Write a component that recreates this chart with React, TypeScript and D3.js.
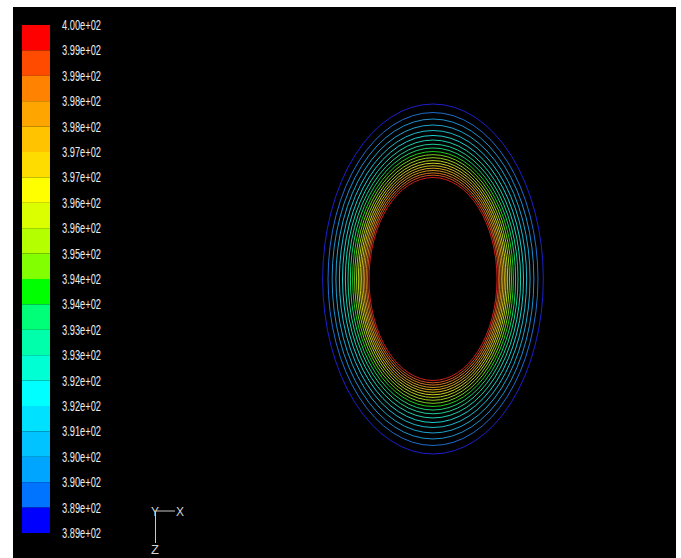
import * as d3 from "d3";

// Colour legend labels, top to bottom (temperature, K)
const legendLabels = [
  "4.00e+02", "3.99e+02", "3.99e+02", "3.98e+02", "3.98e+02", "3.97e+02", "3.97e+02",
  "3.96e+02", "3.96e+02", "3.95e+02", "3.94e+02", "3.94e+02", "3.93e+02", "3.93e+02",
  "3.92e+02", "3.92e+02", "3.91e+02", "3.90e+02", "3.90e+02", "3.89e+02", "3.89e+02",
];

// Band colours, top (hot) to bottom (cold)
const bandColors = [
  "#ff0000", "#ff4b00", "#ff8200", "#ffa500", "#ffc300", "#ffdc00", "#ffff00",
  "#dcff00", "#b4ff00", "#82ff00", "#00ff00", "#00ff78", "#00ffaa", "#00ffd2",
  "#00ffff", "#00e1ff", "#00c3ff", "#00a5ff", "#0073ff", "#0000ff",
];

// Contour levels, inner (hot) to outer (cold), relative to the inner wall radius
const contourRadius = [
  1.0, 1.023, 1.045, 1.069, 1.092, 1.116, 1.141, 1.167, 1.195, 1.225,
  1.256, 1.291, 1.328, 1.369, 1.414, 1.463, 1.517, 1.576, 1.64, 1.724,
];

const W = 681;
const H = 558;

export default function App() {
  const yLegend = d3.scaleLinear().domain([0, bandColors.length]).range([25, 533]);
  const x = d3.scaleLinear().domain([-1, 1]).range([369, 497]);
  const y = d3.scaleLinear().domain([-1, 1]).range([380.5, 177.5]);

  const font = "'Liberation Sans', Arial, sans-serif";

  return (
    <svg
      width={W}
      height={H}
      viewBox={`0 0 ${W} ${H}`}
      style={{ position: "absolute", left: 0, top: 0, background: "#fff" }}
    >
      <rect x={13} y={7} width={663} height={H - 7} fill="#000" />

      {/* legend */}
      {bandColors.map((c, i) => (
        <rect
          key={"b" + i}
          x={22}
          y={yLegend(i)}
          width={28}
          height={yLegend(i + 1) - yLegend(i)}
          fill={c}
        />
      ))}
      {legendLabels.map((t, i) => (
        <text
          key={"l" + i}
          x={62}
          y={yLegend(i) + 5}
          fill="#ebebeb"
          fontFamily={font}
          fontSize={14}
          textLength={39}
          lengthAdjust="spacingAndGlyphs"
        >
          {t}
        </text>
      ))}

      {/* contours */}
      {contourRadius.map((r, i) => (
        <ellipse
          key={"c" + i}
          cx={x(0)}
          cy={y(0)}
          rx={x(r) - x(0)}
          ry={y(0) - y(r)}
          fill="none"
          stroke={d3.interpolateRgb(bandColors[i], "#ffffff")(0.15)}
          strokeWidth={1}
          strokeOpacity={0.8}
        />
      ))}

      {/* axis triad */}
      <g stroke="#c8c8c8" strokeWidth={1}>
        <line x1={155.5} y1={511} x2={175} y2={511} />
        <line x1={155.5} y1={512} x2={155.5} y2={543} />
      </g>
      <g fill="#d2d2d2" fontFamily={font} fontSize={13} textAnchor="middle">
        <text x={155} y={516} textLength={8} lengthAdjust="spacingAndGlyphs">Y</text>
        <text x={180} y={516} textLength={8} lengthAdjust="spacingAndGlyphs">X</text>
        <text x={155} y={554} textLength={8} lengthAdjust="spacingAndGlyphs">Z</text>
      </g>
    </svg>
  );
}
